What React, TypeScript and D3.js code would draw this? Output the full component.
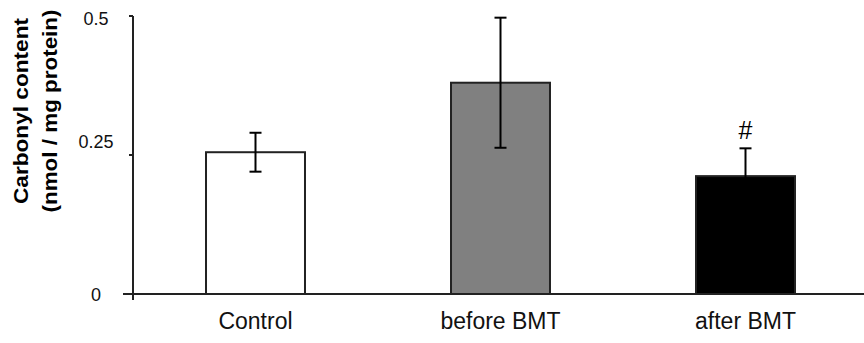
import React, { useRef, useEffect } from 'react';
import * as d3 from 'd3';

const groups = ['Control', 'before BMT', 'after BMT'];
const means = [0.255, 0.38, 0.212];
const errors = [0.035, 0.117, 0.05];
const fills = ['#ffffff', '#808080', '#000000'];
const marks = ['', '', '#'];
const yTicks = [0, 0.25, 0.5];
const yTickLabels = ['0', '0.25', '0.5'];

function App() {
  const ref = useRef<SVGSVGElement>(null);

  useEffect(() => {
    const svg = d3.select(ref.current);
    svg.selectAll('*').remove();

    const width = 864;
    const height = 343;
    const font = 'Liberation Sans, Arial, sans-serif';

    svg.attr('width', width).attr('height', height).style('background', 'white');

    const x = d3.scaleBand<string>()
      .domain(groups)
      .range([133, 868])
      .paddingInner(0.596)
      .paddingOuter(0.298);

    const y = d3.scaleLinear().domain([0, 0.5]).range([294, 16]);

    const data = groups.map((g, i) => ({ g, m: means[i], e: errors[i], fill: fills[i], mark: marks[i] }));

    // bars
    svg.append('g').selectAll('rect')
      .data(data)
      .enter().append('rect')
        .attr('x', d => x(d.g)!)
        .attr('y', d => y(d.m))
        .attr('width', x.bandwidth())
        .attr('height', d => y(0) - y(d.m))
        .attr('fill', d => d.fill)
        .attr('stroke', '#222')
        .attr('stroke-width', 2);

    // error bars
    const eg = svg.append('g').attr('stroke', '#000').attr('stroke-width', 2);
    data.forEach(d => {
      const cx = x(d.g)! + x.bandwidth() / 2;
      eg.append('line').attr('x1', cx).attr('x2', cx).attr('y1', y(d.m + d.e)).attr('y2', y(d.m - d.e));
      eg.append('line').attr('x1', cx - 6).attr('x2', cx + 6).attr('y1', y(d.m + d.e)).attr('y2', y(d.m + d.e));
      eg.append('line').attr('x1', cx - 6).attr('x2', cx + 6).attr('y1', y(d.m - d.e)).attr('y2', y(d.m - d.e));
    });

    // significance marks
    svg.append('g').selectAll('text')
      .data(data.filter(d => d.mark))
      .enter().append('text')
        .attr('x', d => x(d.g)! + x.bandwidth() / 2)
        .attr('y', d => y(d.m + d.e) - 9)
        .attr('text-anchor', 'middle')
        .style('font-family', font)
        .style('font-size', '25px')
        .text(d => d.mark);

    // axes
    svg.append('line')
      .attr('x1', 123).attr('x2', width)
      .attr('y1', y(0)).attr('y2', y(0))
      .attr('stroke', '#222').attr('stroke-width', 2);
    svg.append('line')
      .attr('x1', 133).attr('x2', 133)
      .attr('y1', y(0.5)).attr('y2', y(0) + 6)
      .attr('stroke', '#222').attr('stroke-width', 2);

    const tg = svg.append('g');
    tg.selectAll('line')
      .data(yTicks.filter(t => t > 0))
      .enter().append('line')
        .attr('x1', 129).attr('x2', 133)
        .attr('y1', d => y(d)).attr('y2', d => y(d))
        .attr('stroke', '#222').attr('stroke-width', 2);

    // tick labels sit a bit off their ticks in the original
    const nudge: Record<string, number> = { '0': 1, '0.25': -13, '0.5': 3 };
    tg.selectAll('text')
      .data(yTicks)
      .enter().append('text')
        .attr('x', 96)
        .attr('y', d => y(d))
        .attr('dy', (d, i) => (nudge[yTickLabels[i]] + 6) + 'px')
        .attr('text-anchor', 'middle')
        .style('font-family', font)
        .style('font-size', '18px')
        .style('fill', '#111')
        .text((d, i) => yTickLabels[i]);

    // category labels
    svg.append('g').selectAll('text')
      .data(groups)
      .enter().append('text')
        .attr('x', d => x(d)! + x.bandwidth() / 2)
        .attr('y', 329)
        .attr('text-anchor', 'middle')
        .style('font-family', font)
        .style('font-size', '23px')
        .style('fill', '#111')
        .text(d => d);

    // y title
    const cy = 111;
    svg.append('text')
      .attr('transform', `translate(28,${cy}) rotate(-90)`)
      .attr('text-anchor', 'middle')
      .attr('textLength', 186)
      .attr('lengthAdjust', 'spacingAndGlyphs')
      .style('font-family', font)
      .style('font-weight', 'bold')
      .style('font-size', '21px')
      .text('Carbonyl content');
    svg.append('text')
      .attr('transform', `translate(57,${cy}) rotate(-90)`)
      .attr('text-anchor', 'middle')
      .attr('textLength', 203)
      .attr('lengthAdjust', 'spacingAndGlyphs')
      .style('font-family', font)
      .style('font-weight', 'bold')
      .style('font-size', '21px')
      .text('(nmol / mg protein)');
  }, []);

  return <svg ref={ref} style={{ position: 'absolute', left: 0, top: 0, display: 'block' }}></svg>;
}

export default App;
